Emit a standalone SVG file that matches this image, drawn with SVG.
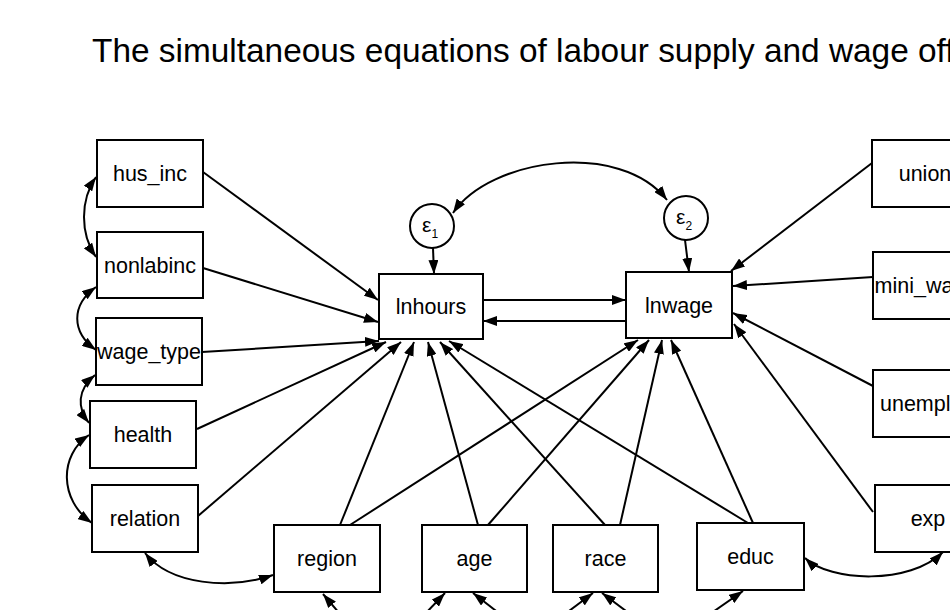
<svg xmlns="http://www.w3.org/2000/svg" width="950" height="610" viewBox="0 0 950 610">
<defs>
<marker id="ah" viewBox="0 0 14 10" refX="14" refY="5" markerWidth="14" markerHeight="10" markerUnits="userSpaceOnUse" orient="auto-start-reverse">
<path d="M0,0 L14,5 L0,10 z" fill="#000"/>
</marker>
<style>
.box{fill:#fff;stroke:#000;stroke-width:2}
.lbl{font-family:"Liberation Sans",Arial,sans-serif;font-size:21.5px;fill:#000;text-anchor:middle}
.e{font-family:"Liberation Sans",Arial,sans-serif;font-size:21px;fill:#000}
.title{font-family:"Liberation Sans",Arial,sans-serif;font-size:33.4px;fill:#000}
.p{fill:none;stroke:#000;stroke-width:2;marker-end:url(#ah)}
.c{fill:none;stroke:#000;stroke-width:2;marker-start:url(#ah);marker-end:url(#ah)}
</style>
</defs>
<rect width="950" height="610" fill="#fff"/>
<text class="title" x="92" y="62">The simultaneous equations of labour supply and wage offers</text>

<g id="connectors">
<path class="p" d="M203,172 L378,300"/>
<path class="p" d="M203,268 L378,322"/>
<path class="p" d="M202,352 L379,341"/>
<path class="p" d="M197,429 L386,342"/>
<path class="p" d="M198,516 L401,342"/>
<path class="p" d="M340,525 L414,342"/>
<path class="p" d="M478,525 L428,342"/>
<path class="p" d="M605,525 L440,342"/>
<path class="p" d="M748,523 L449,341"/>
<path class="p" d="M350,525 L638,340"/>
<path class="p" d="M488,525 L649,340"/>
<path class="p" d="M620,525 L662,340"/>
<path class="p" d="M753,523 L671,340"/>
<path class="p" d="M872,163 L731,271"/>
<path class="p" d="M873,277 L733,286"/>
<path class="p" d="M873,386 L733,313"/>
<path class="p" d="M873,512 L734,324"/>
<path class="p" d="M483,300 L626,300"/>
<path class="p" d="M626,321 L483,321"/>
<path class="p" d="M433,248 L434,274"/>
<path class="p" d="M685,240 L689,272"/>
<path class="c" d="M453,213 C490,158 620,140 667,200"/>
<path class="c" d="M96,177 C80,200 80,234 96,257"/>
<path class="c" d="M96,287 C71,305 71,332 96,350"/>
<path class="c" d="M95,375 C77,390 77,408 89,423"/>
<path class="c" d="M89,435 C59,455 59,500 92,523"/>
<path class="c" d="M145,553 C170,585 230,590 273,575"/>
<path class="c" d="M805,558 C830,582 910,585 943,552"/>
<path class="p" d="M340,614 L323,594"/>
<path class="p" d="M425,614 L445,593"/>
<path class="p" d="M500,614 L473,593"/>
<path class="p" d="M565,614 L593,593"/>
<path class="p" d="M630,614 L602,593"/>
<path class="p" d="M710,614 L743,591"/>
</g>

<g id="hus_inc"><rect class="box" x="97" y="140" width="106" height="67"/><text class="lbl" x="150" y="181">hus_inc</text></g>
<g id="nonlabinc"><rect class="box" x="97" y="232" width="106" height="66"/><text class="lbl" x="150" y="273">nonlabinc</text></g>
<g id="wage_type"><rect class="box" x="96" y="318" width="106" height="67"/><text class="lbl" x="149" y="359">wage_type</text></g>
<g id="health"><rect class="box" x="90" y="401" width="106" height="67"/><text class="lbl" x="143" y="442">health</text></g>
<g id="relation"><rect class="box" x="92" y="485" width="106" height="67"/><text class="lbl" x="145" y="526">relation</text></g>
<g id="region"><rect class="box" x="274" y="525" width="106" height="67"/><text class="lbl" x="327" y="566">region</text></g>
<g id="age"><rect class="box" x="422" y="525" width="105" height="67"/><text class="lbl" x="474.5" y="566">age</text></g>
<g id="race"><rect class="box" x="553" y="525" width="105" height="67"/><text class="lbl" x="605.5" y="566">race</text></g>
<g id="educ"><rect class="box" x="697" y="523" width="107" height="67"/><text class="lbl" x="750.5" y="564">educ</text></g>
<g id="exp"><rect class="box" x="875" y="485" width="106" height="67"/><text class="lbl" x="928" y="526">exp</text></g>
<g id="lnhours"><rect class="box" x="379" y="274" width="104" height="65"/><text class="lbl" x="431" y="314">lnhours</text></g>
<g id="lnwage"><rect class="box" x="626" y="272" width="106" height="66"/><text class="lbl" x="679" y="313">lnwage</text></g>
<g id="union"><rect class="box" x="872" y="140" width="106" height="67"/><text class="lbl" x="925" y="181">union</text></g>
<g id="mini_wage"><rect class="box" x="873" y="252" width="106" height="67"/><text class="lbl" x="926" y="293">mini_wage</text></g>
<g id="unemployment"><rect class="box" x="873" y="370" width="106" height="67"/><text class="lbl" x="880" y="411" style="text-anchor:start">unemployment</text></g>
<g id="e1"><circle cx="432" cy="226" r="22" fill="#fff" stroke="#000" stroke-width="2"/><text class="e" x="422" y="232">ε<tspan font-size="12" dy="6">1</tspan></text></g>
<g id="e2"><circle cx="686" cy="218" r="22" fill="#fff" stroke="#000" stroke-width="2"/><text class="e" x="676" y="224">ε<tspan font-size="12" dy="6">2</tspan></text></g>
</svg>
